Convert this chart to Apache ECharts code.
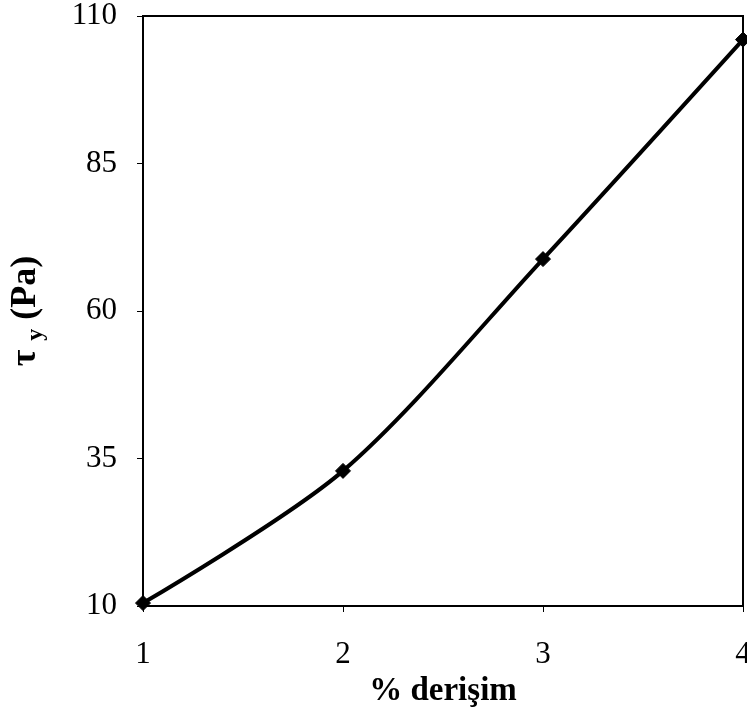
<!DOCTYPE html>
<html>
<head>
<meta charset="utf-8">
<script src="https://cdn.jsdelivr.net/npm/echarts@6/dist/echarts.min.js"></script>
<style>
  html, body { margin: 0; padding: 0; background: #fff; }
  #chart { width: 747px; height: 709px; }
</style>
</head>
<body>
<div id="chart"></div>
<script>
// concentration (%) and yield stress (Pa)
const concentrations = [1, 2, 3, 4];
const yieldStress = [10.5, 32.9, 68.8, 106];
const yTickValues = [10, 35, 60, 85, 110];
const xTickValues = [1, 2, 3, 4];

const serif = '"Liberation Serif", "Times New Roman", serif';
const chart = echarts.init(document.getElementById('chart'));

chart.setOption({
  animation: false,
  backgroundColor: '#ffffff',
  grid: {
    left: 143, top: 16, right: 4, bottom: 103,
    outerBoundsMode: 'none',
    containLabel: false,
    show: true, borderColor: '#000', borderWidth: 2, backgroundColor: 'transparent'
  },
  xAxis: {
    type: 'value', min: 1, max: 4,
    name: '% derişim',
    nameLocation: 'middle', nameGap: 62,
    nameTextStyle: { fontFamily: serif, fontWeight: 'bold', fontSize: 33, color: '#000' },
    axisLine: { show: true, lineStyle: { color: '#000', width: 2 } },
    axisTick: { show: true, length: 6, customValues: xTickValues, lineStyle: { color: '#000', width: 1 } },
    axisLabel: { customValues: xTickValues, margin: 33, fontFamily: serif, fontSize: 31, color: '#000' },
    splitLine: { show: false }
  },
  yAxis: {
    type: 'value', min: 10, max: 110,
    name: '{t|τ} {s|y} {t|(Pa)}',
    nameLocation: 'middle', nameGap: 95, nameRotate: 90,
    nameTextStyle: {
      fontFamily: serif, fontWeight: 'bold', fontSize: 36, color: '#000',
      rich: {
        t: { fontFamily: serif, fontWeight: 'bold', fontSize: 36, color: '#000', lineHeight: 44, verticalAlign: 'middle' },
        s: { fontFamily: serif, fontWeight: 'bold', fontSize: 24, color: '#000', lineHeight: 44, verticalAlign: 'bottom', padding: [12, 0, 0, 0] }
      }
    },
    axisLine: { show: true, lineStyle: { color: '#000', width: 2 } },
    axisTick: { show: true, length: 6, customValues: yTickValues, lineStyle: { color: '#000', width: 1 } },
    axisLabel: { customValues: yTickValues, margin: 26, fontFamily: serif, fontSize: 31, color: '#000' },
    splitLine: { show: false }
  },
  series: [{
    type: 'line',
    data: concentrations.map((c, i) => [c, yieldStress[i]]),
    smooth: 0.3,
    symbol: 'diamond',
    symbolSize: 15,
    clip: false,
    lineStyle: { color: '#000', width: 4 },
    itemStyle: { color: '#000', borderColor: '#000' }
  }]
});
</script>
</body>
</html>
